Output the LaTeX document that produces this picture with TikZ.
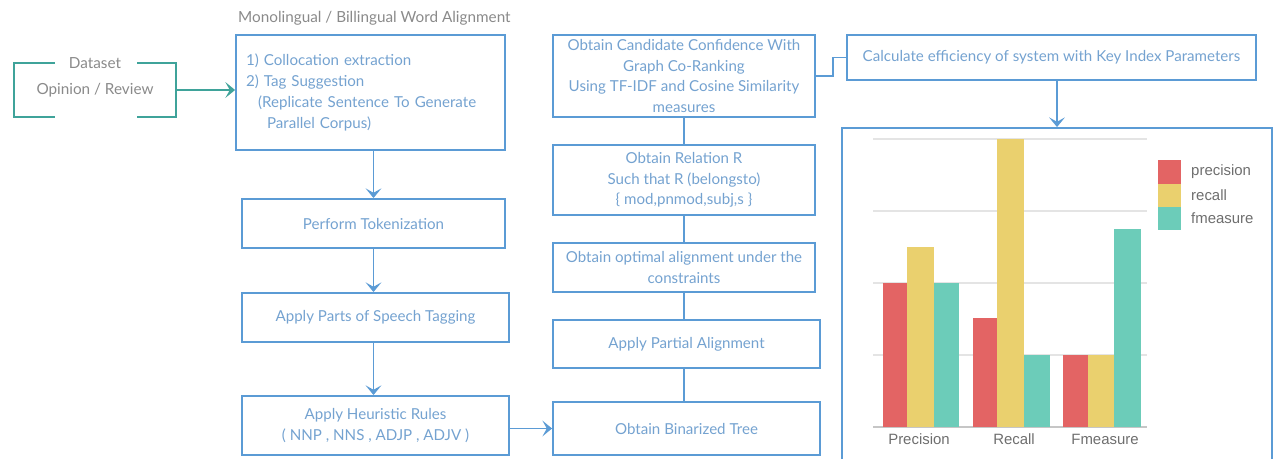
\documentclass[tikz,border=0pt]{standalone}
\usepackage{fontspec}
\setmainfont{Lato}
\newfontfamily\chartfont{Liberation Sans}
\usetikzlibrary{arrows.meta,positioning}

\definecolor{boxline}{HTML}{5B9BD5}
\definecolor{boxtext}{HTML}{74A2D0}
\definecolor{dsline}{HTML}{3FA39A}
\definecolor{graytext}{HTML}{8A8A8A}
\definecolor{barred}{HTML}{E36464}
\definecolor{baryellow}{HTML}{EAD06E}
\definecolor{barteal}{HTML}{6CCCB9}
\definecolor{gridgray}{HTML}{E4E4E4}

\tikzset{>={Stealth[length=5.5pt,width=9pt,inset=2.5pt]},
  stepbox/.style={draw=boxline, line width=1.1pt, text=boxtext, align=center,
    inner sep=2pt, font=\fontsize{8.6}{11.8}\selectfont},
  flow/.style={draw=boxline, line width=1.1pt},
  dsflow/.style={draw=dsline, line width=1.1pt},
  charttext/.style={text=graytext!80!black, font=\chartfont\fontsize{8.5}{10}\selectfont}}

\begin{document}
\begin{tikzpicture}[x=0.02cm,y=-0.02cm]
  \useasboundingbox (0,0) rectangle (1274,459);

  % dataset
  \node[minimum width=3.24cm, minimum height=1.08cm, text=graytext,
    font=\fontsize{8.7}{10}\selectfont,
    label={[anchor=center, text=graytext, font=\fontsize{8.7}{10}\selectfont]north:Dataset}]
    (dataset) at (95,90) {Opinion / Review};
  \draw[dsflow] ([xshift=0.82cm]dataset.north west) -- (dataset.north west)
    -- (dataset.south west) -- ([xshift=0.82cm]dataset.south west);
  \draw[dsflow] ([xshift=-0.78cm]dataset.north east) -- (dataset.north east)
    -- (dataset.south east) -- ([xshift=-0.78cm]dataset.south east);

  % first column
  \node[text=graytext, font=\fontsize{8.7}{10}\selectfont, anchor=west] (header) at (232,18)
    {Monolingual / Billingual Word Alignment};
  \node[stepbox, minimum width=5.38cm, minimum height=2.3cm, align=left, text width=4.98cm]
    (colloc) at (370.5,92.5) {1) Collocation extraction\\2) Tag Suggestion\\
    \hspace*{0.24cm}(Replicate Sentence To Generate\\\hspace*{0.42cm}Parallel Corpus)};
  \node[stepbox, minimum width=5.26cm, minimum height=0.98cm] (token) at (373.5,223.5)
    {Perform Tokenization};
  \node[stepbox, minimum width=5.34cm, minimum height=0.98cm] (postag) at (375.5,317.5)
    {Apply Parts of Speech Tagging};
  \node[stepbox, minimum width=5.34cm, minimum height=1.18cm] (heuristic) at (375.5,425.5)
    {Apply Heuristic Rules\\( NNP , NNS , ADJP , ADJV )};

  % second column
  \node[stepbox, minimum width=5.24cm, minimum height=1.64cm] (candidate) at (684,76)
    {Obtain Candidate Confidence With\\Graph Co-Ranking\\Using TF-IDF and Cosine Similarity\\measures};
  \node[stepbox, minimum width=5.24cm, minimum height=1.4cm] (relation) at (684,180)
    {Obtain Relation R\\Such that R (belongsto)\\\{ mod,pnmod,subj,s \}};
  \node[stepbox, minimum width=5.24cm, minimum height=0.98cm] (optimal) at (684,267.5)
    {Obtain optimal alignment under the\\constraints};
  \node[stepbox, minimum width=5.34cm, minimum height=0.96cm] (partial) at (686.5,344)
    {Apply Partial Alignment};
  \node[stepbox, minimum width=5.34cm, minimum height=1.06cm] (binarized) at (686.5,428.5)
    {Obtain Binarized Tree};

  % third column
  \node[stepbox, minimum width=8.18cm, minimum height=0.9cm] (efficiency) at (1051.5,57.5)
    {Calculate efficiency of system with Key Index Parameters};
  \node[draw=boxline, line width=1.1pt, minimum width=8.6cm, minimum height=6.64cm]
    (chart) at (1057,294) {};

  % connectors
  \draw[dsflow,->] (dataset.east) -- (dataset.east -| colloc.west);
  \draw[flow,->] (colloc.south -| token.north) -- (token.north);
  \draw[flow,->] (token.south) -- (token.south |- postag.north);
  \draw[flow,->] (token.south |- postag.south) -- (token.south |- heuristic.north);
  \draw[flow,->] (heuristic.east |- binarized.west) -- (binarized.west);
  \draw[flow] (candidate.south) -- (relation.north);
  \draw[flow] (relation.south) -- (optimal.north);
  \draw[flow] (optimal.south) -- (optimal.south |- partial.north);
  \draw[flow] (optimal.south |- partial.south) -- (optimal.south |- binarized.north);
  \draw[flow] (candidate.east) -- ++(17,0) |- (efficiency.west);
  \draw[flow,->] (chart.north |- efficiency.south) -- (chart.north);

  % chart grid
  \foreach \gy in {139,211,283,355}
    \draw[gridgray, line width=0.6pt] (873,\gy) -- (1147,\gy);
  \draw[gridgray!70!gray, line width=0.8pt] (873,427) -- (1147,427);

  % bars
  \foreach \xa/\xb/\top/\col in {883/907/283/barred, 907/934/247/baryellow, 934/959/283/barteal,
      973/997/318/barred, 997/1024/139/baryellow, 1024/1050/355/barteal,
      1063/1088/355/barred, 1088/1114/355/baryellow, 1114/1141/229/barteal}
    \fill[\col] (\xa,426.5) rectangle (\xb,\top);

  \node[charttext] (precisionlabel) at (919,439) {Precision};
  \node[charttext] (recalllabel) at (1014,439) {Recall};
  \node[charttext] (fmeasurelabel) at (1105,439) {Fmeasure};

  % legend
  \foreach \ly/\lh/\col/\name in {160/184/barred/precision, 184/207/baryellow/recall,
      207/230/barteal/fmeasure} {
    \fill[\col] (1158,\ly) rectangle (1181,\lh);
    \node[charttext, anchor=west] at (1185,{(\ly+\lh)/2}) {\name};
  }

\end{tikzpicture}
\end{document}
